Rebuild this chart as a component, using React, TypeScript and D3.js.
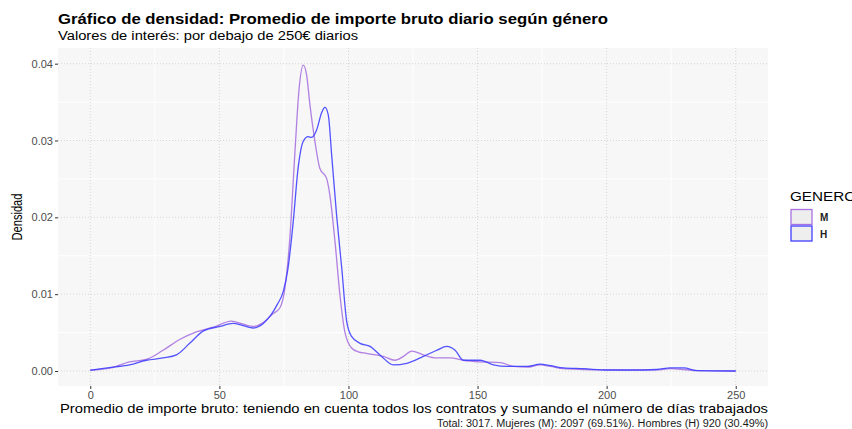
import React, { useEffect, useRef } from "react";
import * as d3 from "d3";

// Mujeres (M)
const xM = [0, 8, 15.2, 21.7, 28.2, 34.6, 41.1, 47.6, 54.7, 59.2, 63.1, 67, 70.5, 73.4, 75.4, 77.3, 79.2, 80.9, 82.5, 83.8, 85.1, 87, 88.9, 91.5, 92.8, 94.8, 96.7, 98.6, 101.2, 103.8, 107, 113.5, 118, 121.3, 124.5, 129, 134.2, 139.4, 144.5, 151, 158.8, 163.9, 169.1, 174.3, 178.2, 183.3, 191.1, 200.2, 209.2, 219.4, 224.7, 229.9, 235.1, 250];
const densM = [0.0001, 0.0004, 0.0012, 0.0015, 0.0027, 0.0041, 0.0051, 0.0057, 0.0065, 0.0061, 0.0058, 0.0063, 0.0074, 0.0082, 0.0108, 0.0173, 0.0281, 0.0368, 0.0398, 0.0385, 0.0346, 0.0299, 0.0264, 0.0251, 0.0229, 0.0168, 0.0099, 0.0051, 0.003, 0.0025, 0.0023, 0.0019, 0.0014, 0.0019, 0.0026, 0.0021, 0.0017, 0.0017, 0.0014, 0.0012, 0.0011, 0.0006, 0.0005, 0.0008, 0.0006, 0.0003, 0.0002, 0.00015, 0.00012, 0.00015, 0.0003, 0.0002, 0.00005, 0];

// Hombres (H)
const xH = [0, 8.8, 15.2, 21.7, 28.2, 33.4, 38.5, 43.7, 50.2, 55.3, 59.2, 63.1, 67, 70, 72.5, 74.7, 76.6, 78.6, 80.5, 82.5, 84.4, 85.7, 87.7, 89.6, 90.9, 92.2, 93.5, 95.4, 97.4, 99.3, 101.2, 104.5, 108.4, 112.2, 117.4, 122.6, 129, 134.2, 138.1, 141.3, 144.5, 151, 156.2, 161.4, 169.1, 174.3, 178.2, 183.3, 191.1, 200.2, 209.2, 219.4, 224.7, 229.9, 235.1, 250];
const densH = [0.0001, 0.0005, 0.0008, 0.0014, 0.0017, 0.0021, 0.0036, 0.0052, 0.0058, 0.0062, 0.0059, 0.0056, 0.0062, 0.0073, 0.0087, 0.0103, 0.0134, 0.0194, 0.0264, 0.0299, 0.0305, 0.0304, 0.0314, 0.0336, 0.0343, 0.0333, 0.0281, 0.0203, 0.0134, 0.0065, 0.0045, 0.0036, 0.0032, 0.0021, 0.0008, 0.001, 0.0019, 0.0027, 0.0032, 0.0027, 0.0014, 0.0014, 0.0008, 0.0006, 0.0006, 0.0009, 0.0007, 0.0004, 0.0003, 0.00013, 0.00013, 0.0002, 0.0004, 0.0004, 0.00005, 0];

const xTicks = [0, 50, 100, 150, 200, 250];
const yTicks = [0, 0.01, 0.02, 0.03, 0.04];
const groups = ["M", "H"];
const colors = ["#a872e0", "#4040ff"];

const W = 852;
const H = 429;
const panel = { left: 58, right: 768, top: 48, bottom: 386 };
const font = "'Liberation Sans', Arial, sans-serif";

const App = () => {
  const svgRef = useRef<SVGSVGElement>(null);

  useEffect(() => {
    const svg = d3.select(svgRef.current);
    svg.selectAll("*").remove();

    const x = d3.scaleLinear().domain([-12.5, 262.5]).range([panel.left, panel.right]);
    const y = d3.scaleLinear().domain([-0.00195, 0.04204]).range([panel.bottom, panel.top]);

    // panel background
    svg.append("rect")
      .attr("x", panel.left).attr("y", panel.top)
      .attr("width", panel.right - panel.left).attr("height", panel.bottom - panel.top)
      .attr("fill", "#f7f7f7");

    // minor grid (solid white)
    const xMinor = xTicks.slice(0, -1).map((t) => t + 25);
    const yMinor = yTicks.slice(0, -1).map((t) => t + 0.005);
    svg.append("g").selectAll("line").data(xMinor).join("line")
      .attr("x1", (d) => x(d)).attr("x2", (d) => x(d))
      .attr("y1", panel.top).attr("y2", panel.bottom)
      .attr("stroke", "#ffffff").attr("stroke-width", 1);
    svg.append("g").selectAll("line").data(yMinor).join("line")
      .attr("y1", (d) => y(d)).attr("y2", (d) => y(d))
      .attr("x1", panel.left).attr("x2", panel.right)
      .attr("stroke", "#ffffff").attr("stroke-width", 1);

    // major grid (dotted)
    svg.append("g").selectAll("line").data(xTicks).join("line")
      .attr("x1", (d) => x(d)).attr("x2", (d) => x(d))
      .attr("y1", panel.top).attr("y2", panel.bottom)
      .attr("stroke", "#d6d6d6").attr("stroke-dasharray", "1,2");
    svg.append("g").selectAll("line").data(yTicks).join("line")
      .attr("y1", (d) => y(d)).attr("y2", (d) => y(d))
      .attr("x1", panel.left).attr("x2", panel.right)
      .attr("stroke", "#d6d6d6").attr("stroke-dasharray", "1,2");

    // density lines
    const dataM = xM.map((v, i) => [v, densM[i]] as [number, number]);
    const dataH = xH.map((v, i) => [v, densH[i]] as [number, number]);
    const line = d3.line<[number, number]>()
      .x((d) => x(d[0]))
      .y((d) => y(d[1]))
      .curve(d3.curveMonotoneX);
    [dataM, dataH].forEach((d, i) => {
      svg.append("path")
        .attr("d", line(d))
        .attr("fill", "none")
        .attr("stroke", colors[i])
        .attr("stroke-opacity", 0.9)
        .attr("stroke-width", 1.3);
    });

    // axes
    const xAxis = d3.axisBottom(x).tickValues(xTicks).tickSize(3).tickPadding(2).tickFormat(d3.format("d"));
    const gx = svg.append("g").attr("transform", `translate(0,${panel.bottom})`).call(xAxis);
    const yAxis = d3.axisLeft(y).tickValues(yTicks).tickSize(3).tickPadding(2).tickFormat(d3.format(".2f"));
    const gy = svg.append("g").attr("transform", `translate(${panel.left},0)`).call(yAxis);
    [gx, gy].forEach((g) => {
      g.select(".domain").remove();
      g.selectAll(".tick line").attr("stroke", "#333333");
      g.selectAll(".tick text").attr("fill", "#4d4d4d").attr("font-size", 11).attr("font-family", font);
    });

    // titles
    svg.append("text").attr("x", 58).attr("y", 24)
      .attr("font-family", font).attr("font-size", 15.5).attr("font-weight", "bold").attr("fill", "#000")
      .attr("textLength", 550).attr("lengthAdjust", "spacingAndGlyphs")
      .text("Gráfico de densidad: Promedio de importe bruto diario según género");
    svg.append("text").attr("x", 58).attr("y", 40)
      .attr("font-family", font).attr("font-size", 12).attr("fill", "#000")
      .attr("textLength", 300).attr("lengthAdjust", "spacingAndGlyphs")
      .text("Valores de interés: por debajo de 250€ diarios");
    svg.append("text")
      .attr("x", 60).attr("y", 413)
      .attr("font-family", font).attr("font-size", 13.5).attr("fill", "#000")
      .attr("textLength", 708).attr("lengthAdjust", "spacingAndGlyphs")
      .text("Promedio de importe bruto: teniendo en cuenta todos los contratos y sumando el número de días trabajados");
    svg.append("text")
      .attr("transform", `translate(22,217) rotate(-90)`)
      .attr("x", -23.5)
      .attr("font-family", font).attr("font-size", 14).attr("fill", "#000")
      .attr("textLength", 47).attr("lengthAdjust", "spacingAndGlyphs")
      .text("Densidad");
    svg.append("text")
      .attr("x", 437).attr("y", 427)
      .attr("font-family", font).attr("font-size", 10).attr("fill", "#1a1a1a")
      .attr("textLength", 331).attr("lengthAdjust", "spacingAndGlyphs")
      .text("Total: 3017. Mujeres (M): 2097 (69.51%). Hombres (H) 920 (30.49%)");

    // legend
    const legend = svg.append("g").attr("transform", "translate(790,0)");
    legend.append("text").attr("x", 0).attr("y", 201)
      .attr("font-family", font).attr("font-size", 12.5).attr("fill", "#000")
      .attr("textLength", 66).attr("lengthAdjust", "spacingAndGlyphs")
      .text("GENERO");
    groups.forEach((g, i) => {
      legend.append("rect")
        .attr("x", 1).attr("y", 209.5 + i * 16.5)
        .attr("width", 21).attr("height", 15)
        .attr("fill", "#eeeeee")
        .attr("stroke", colors[i]).attr("stroke-width", 1.3);
      legend.append("text")
        .attr("x", 30).attr("y", 221 + i * 16.5)
        .attr("font-family", font).attr("font-size", 10).attr("font-weight", "bold").attr("fill", "#222")
        .text(g);
    });
  }, []);

  return (
    <svg
      ref={svgRef}
      width={W}
      height={H}
      style={{ position: "absolute", left: 0, top: 0, background: "#ffffff" }}
    />
  );
};

export default App;
